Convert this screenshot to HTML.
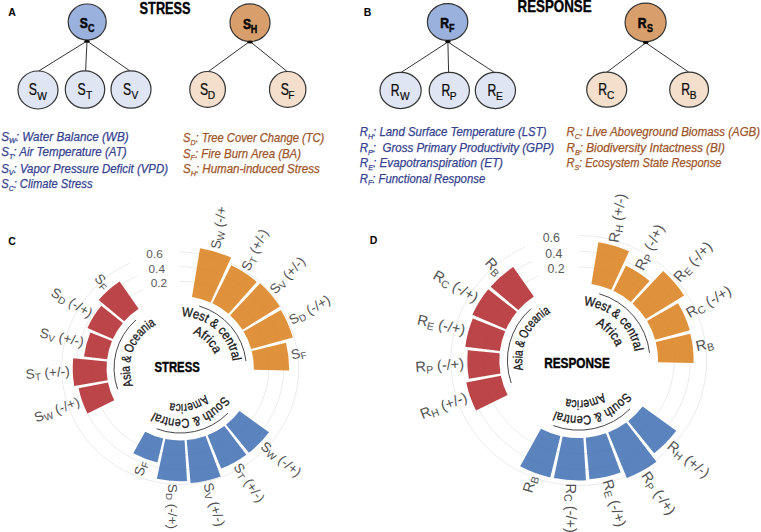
<!DOCTYPE html>
<html><head><meta charset="utf-8"><style>html,body{margin:0;padding:0;background:#fff;width:761px;height:532px;overflow:hidden}svg{display:block}</style></head><body>
<svg width="761" height="532" viewBox="0 0 761 532" font-family='"Liberation Sans", sans-serif'>
<rect width="761" height="532" fill="#fff"/>
<g font-weight="bold" fill="#000" font-size="10.5">
<text x="8.3" y="16.4">A</text><text x="363.8" y="16.4">B</text>
<text x="8.3" y="244.7">C</text><text x="369.8" y="244.4">D</text>
</g>
<text x="139.6" y="13.6" font-size="16.4" font-weight="bold" stroke="#000" stroke-width="0.35" textLength="51" lengthAdjust="spacingAndGlyphs">STRESS</text>
<text x="517.6" y="12.2" font-size="16.4" font-weight="bold" stroke="#000" stroke-width="0.35" textLength="74" lengthAdjust="spacingAndGlyphs">RESPONSE</text>
<line x1="38.7" y1="71" x2="87" y2="41" stroke="#333" stroke-width="1.0"/>
<line x1="85.6" y1="71" x2="87" y2="41" stroke="#333" stroke-width="1.0"/>
<line x1="130" y1="71" x2="87" y2="41" stroke="#333" stroke-width="1.0"/>
<ellipse cx="87.2" cy="22" rx="19" ry="18" fill="#9bb1dd" stroke="#333" stroke-width="1.2"/>
<text transform="translate(79.79,28.00) scale(0.78,1)" font-size="15.5" font-weight="bold" fill="#0a0a0a" stroke="#0a0a0a" stroke-width="0.7">S</text>
<text transform="translate(88.01,32.00) scale(0.9,1)" font-size="10.0" font-weight="bold" fill="#0a0a0a" stroke="#0a0a0a" stroke-width="0.45">C</text>
<ellipse cx="38" cy="90" rx="20" ry="19" fill="#dfe5f3" stroke="#333" stroke-width="1.2"/>
<text transform="translate(28.68,95.40) scale(0.77,1)" font-size="15.8" font-weight="normal" fill="#0a0a0a" stroke="#0a0a0a" stroke-width="0.25">S</text>
<text transform="translate(37.19,99.50) scale(1.0,1)" font-size="10.2" font-weight="normal" fill="#0a0a0a" stroke="#0a0a0a" stroke-width="0.2">W</text>
<ellipse cx="85" cy="89.5" rx="19.7" ry="18.7" fill="#dfe5f3" stroke="#333" stroke-width="1.2"/>
<text transform="translate(77.56,94.90) scale(0.77,1)" font-size="15.8" font-weight="normal" fill="#0a0a0a" stroke="#0a0a0a" stroke-width="0.25">S</text>
<text transform="translate(85.89,99.00) scale(1.0,1)" font-size="10.2" font-weight="normal" fill="#0a0a0a" stroke="#0a0a0a" stroke-width="0.2">T</text>
<ellipse cx="131" cy="89.5" rx="20" ry="18.7" fill="#dfe5f3" stroke="#333" stroke-width="1.2"/>
<text transform="translate(123.09,94.90) scale(0.77,1)" font-size="15.8" font-weight="normal" fill="#0a0a0a" stroke="#0a0a0a" stroke-width="0.25">S</text>
<text transform="translate(131.60,99.00) scale(1.0,1)" font-size="10.2" font-weight="normal" fill="#0a0a0a" stroke="#0a0a0a" stroke-width="0.2">V</text>
<ellipse cx="87" cy="41.3" rx="2.9" ry="1.5" fill="#0a0a0a"/>
<line x1="208.4" y1="71.5" x2="249.6" y2="41.5" stroke="#333" stroke-width="1.0"/>
<line x1="287.2" y1="71.5" x2="250" y2="41.5" stroke="#333" stroke-width="1.0"/>
<ellipse cx="250" cy="22.7" rx="20" ry="18.8" fill="#d89f6c" stroke="#333" stroke-width="1.2"/>
<text transform="translate(242.88,28.70) scale(0.78,1)" font-size="15.5" font-weight="bold" fill="#0a0a0a" stroke="#0a0a0a" stroke-width="0.7">S</text>
<text transform="translate(250.87,32.70) scale(0.9,1)" font-size="10.0" font-weight="bold" fill="#0a0a0a" stroke="#0a0a0a" stroke-width="0.45">H</text>
<ellipse cx="207.6" cy="89.4" rx="17.8" ry="17.9" fill="#f3dfcc" stroke="#333" stroke-width="1.2"/>
<text transform="translate(200.03,94.80) scale(0.77,1)" font-size="15.8" font-weight="normal" fill="#0a0a0a" stroke="#0a0a0a" stroke-width="0.25">S</text>
<text transform="translate(207.75,98.90) scale(1.0,1)" font-size="10.2" font-weight="normal" fill="#0a0a0a" stroke="#0a0a0a" stroke-width="0.2">D</text>
<ellipse cx="287.7" cy="89.4" rx="18.2" ry="17.9" fill="#f3dfcc" stroke="#333" stroke-width="1.2"/>
<text transform="translate(280.65,94.80) scale(0.77,1)" font-size="15.8" font-weight="normal" fill="#0a0a0a" stroke="#0a0a0a" stroke-width="0.25">S</text>
<text transform="translate(288.37,98.90) scale(1.0,1)" font-size="10.2" font-weight="normal" fill="#0a0a0a" stroke="#0a0a0a" stroke-width="0.2">F</text>
<ellipse cx="250" cy="42.0" rx="2.9" ry="1.5" fill="#0a0a0a"/>
<line x1="401.2" y1="72.4" x2="447.9" y2="42" stroke="#333" stroke-width="1.0"/>
<line x1="448.6" y1="72.4" x2="447.9" y2="42" stroke="#333" stroke-width="1.0"/>
<line x1="494.3" y1="72.4" x2="447.9" y2="42" stroke="#333" stroke-width="1.0"/>
<ellipse cx="447.6" cy="22" rx="20.2" ry="18.3" fill="#9bb1dd" stroke="#333" stroke-width="1.2"/>
<text transform="translate(440.17,28.00) scale(0.78,1)" font-size="15.5" font-weight="bold" fill="#0a0a0a" stroke="#0a0a0a" stroke-width="0.7">R</text>
<text transform="translate(449.05,32.00) scale(0.9,1)" font-size="10.0" font-weight="bold" fill="#0a0a0a" stroke="#0a0a0a" stroke-width="0.45">F</text>
<ellipse cx="400.6" cy="90.5" rx="20.6" ry="18.1" fill="#dfe5f3" stroke="#333" stroke-width="1.2"/>
<text transform="translate(390.72,95.90) scale(0.77,1)" font-size="15.8" font-weight="normal" fill="#0a0a0a" stroke="#0a0a0a" stroke-width="0.25">R</text>
<text transform="translate(399.90,100.00) scale(1.0,1)" font-size="10.2" font-weight="normal" fill="#0a0a0a" stroke="#0a0a0a" stroke-width="0.2">W</text>
<ellipse cx="449.3" cy="90.5" rx="20.1" ry="18.1" fill="#dfe5f3" stroke="#333" stroke-width="1.2"/>
<text transform="translate(441.48,95.90) scale(0.77,1)" font-size="15.8" font-weight="normal" fill="#0a0a0a" stroke="#0a0a0a" stroke-width="0.25">R</text>
<text transform="translate(449.86,100.00) scale(1.0,1)" font-size="10.2" font-weight="normal" fill="#0a0a0a" stroke="#0a0a0a" stroke-width="0.2">P</text>
<ellipse cx="495.4" cy="90.5" rx="20.1" ry="18.1" fill="#dfe5f3" stroke="#333" stroke-width="1.2"/>
<text transform="translate(487.52,95.90) scale(0.77,1)" font-size="15.8" font-weight="normal" fill="#0a0a0a" stroke="#0a0a0a" stroke-width="0.25">R</text>
<text transform="translate(495.91,100.00) scale(1.0,1)" font-size="10.2" font-weight="normal" fill="#0a0a0a" stroke="#0a0a0a" stroke-width="0.2">E</text>
<ellipse cx="447.9" cy="41.6" rx="2.9" ry="1.5" fill="#0a0a0a"/>
<line x1="607" y1="72.1" x2="645.8" y2="42.8" stroke="#333" stroke-width="1.0"/>
<line x1="688.7" y1="72.1" x2="645.8" y2="42.8" stroke="#333" stroke-width="1.0"/>
<ellipse cx="645.6" cy="22.4" rx="20.5" ry="19.3" fill="#d89f6c" stroke="#333" stroke-width="1.2"/>
<text transform="translate(637.76,28.40) scale(0.78,1)" font-size="15.5" font-weight="bold" fill="#0a0a0a" stroke="#0a0a0a" stroke-width="0.7">R</text>
<text transform="translate(646.98,32.40) scale(0.9,1)" font-size="10.0" font-weight="bold" fill="#0a0a0a" stroke="#0a0a0a" stroke-width="0.45">S</text>
<ellipse cx="606.7" cy="89.6" rx="20" ry="17.5" fill="#f3dfcc" stroke="#333" stroke-width="1.2"/>
<text transform="translate(598.36,95.00) scale(0.77,1)" font-size="15.8" font-weight="normal" fill="#0a0a0a" stroke="#0a0a0a" stroke-width="0.25">R</text>
<text transform="translate(607.06,99.10) scale(1.0,1)" font-size="10.2" font-weight="normal" fill="#0a0a0a" stroke="#0a0a0a" stroke-width="0.2">C</text>
<ellipse cx="689.1" cy="89.6" rx="19.4" ry="17.5" fill="#f3dfcc" stroke="#333" stroke-width="1.2"/>
<text transform="translate(681.28,95.00) scale(0.77,1)" font-size="15.8" font-weight="normal" fill="#0a0a0a" stroke="#0a0a0a" stroke-width="0.25">R</text>
<text transform="translate(689.66,99.10) scale(1.0,1)" font-size="10.2" font-weight="normal" fill="#0a0a0a" stroke="#0a0a0a" stroke-width="0.2">B</text>
<ellipse cx="645.8" cy="42.5" rx="2.9" ry="1.5" fill="#0a0a0a"/>
<text x="1.2" y="140.5" font-size="12.6" font-style="italic" fill="#35428f" stroke="#35428f" stroke-width="0.25" textLength="127.4" lengthAdjust="spacingAndGlyphs">S<tspan font-size="7.8" dy="2.8">W</tspan><tspan dy="-2.8">: Water Balance (WB)</tspan></text>
<text x="1.2" y="156.2" font-size="12.6" font-style="italic" fill="#35428f" stroke="#35428f" stroke-width="0.25" textLength="125.4" lengthAdjust="spacingAndGlyphs">S<tspan font-size="7.8" dy="2.8">T</tspan><tspan dy="-2.8">: Air Temperature (AT)</tspan></text>
<text x="1.2" y="172.5" font-size="12.6" font-style="italic" fill="#35428f" stroke="#35428f" stroke-width="0.25" textLength="166.8" lengthAdjust="spacingAndGlyphs">S<tspan font-size="7.8" dy="2.8">V</tspan><tspan dy="-2.8">: Vapor Pressure Deficit (VPD)</tspan></text>
<text x="1.2" y="188" font-size="12.6" font-style="italic" fill="#35428f" stroke="#35428f" stroke-width="0.25" textLength="91.3" lengthAdjust="spacingAndGlyphs">S<tspan font-size="7.8" dy="2.8">C</tspan><tspan dy="-2.8">: Climate Stress</tspan></text>
<text x="183" y="142" font-size="12.6" font-style="italic" fill="#9e5428" stroke="#9e5428" stroke-width="0.25" textLength="141.3" lengthAdjust="spacingAndGlyphs">S<tspan font-size="7.8" dy="2.8">D</tspan><tspan dy="-2.8">: Tree Cover Change (TC)</tspan></text>
<text x="183" y="157.5" font-size="12.6" font-style="italic" fill="#9e5428" stroke="#9e5428" stroke-width="0.25" textLength="118.0" lengthAdjust="spacingAndGlyphs">S<tspan font-size="7.8" dy="2.8">F</tspan><tspan dy="-2.8">: Fire Burn Area (BA)</tspan></text>
<text x="183" y="173.2" font-size="12.6" font-style="italic" fill="#9e5428" stroke="#9e5428" stroke-width="0.25" textLength="136.8" lengthAdjust="spacingAndGlyphs">S<tspan font-size="7.8" dy="2.8">H</tspan><tspan dy="-2.8">: Human-induced Stress</tspan></text>
<text x="359.7" y="135.7" font-size="12.6" font-style="italic" fill="#35428f" stroke="#35428f" stroke-width="0.25" textLength="186.8" lengthAdjust="spacingAndGlyphs">R<tspan font-size="7.8" dy="2.8">H</tspan><tspan dy="-2.8">: Land Surface Temperature (LST)</tspan></text>
<text x="359.7" y="151.7" font-size="12.6" font-style="italic" fill="#35428f" stroke="#35428f" stroke-width="0.25" textLength="194.5" lengthAdjust="spacingAndGlyphs">R<tspan font-size="7.8" dy="2.8">P</tspan><tspan dy="-2.8">:&#160; Gross Primary Productivity (GPP)</tspan></text>
<text x="359.7" y="167.4" font-size="12.6" font-style="italic" fill="#35428f" stroke="#35428f" stroke-width="0.25" textLength="143.3" lengthAdjust="spacingAndGlyphs">R<tspan font-size="7.8" dy="2.8">E</tspan><tspan dy="-2.8">: Evapotranspiration (ET)</tspan></text>
<text x="359.7" y="182.6" font-size="12.6" font-style="italic" fill="#35428f" stroke="#35428f" stroke-width="0.25" textLength="125.5" lengthAdjust="spacingAndGlyphs">R<tspan font-size="7.8" dy="2.8">F</tspan><tspan dy="-2.8">: Functional Response</tspan></text>
<text x="566.4" y="136.1" font-size="12.6" font-style="italic" fill="#9e5428" stroke="#9e5428" stroke-width="0.25" textLength="193.6" lengthAdjust="spacingAndGlyphs">R<tspan font-size="7.8" dy="2.8">C</tspan><tspan dy="-2.8">: Live Aboveground Biomass (AGB)</tspan></text>
<text x="566.4" y="152.1" font-size="12.6" font-style="italic" fill="#9e5428" stroke="#9e5428" stroke-width="0.25" textLength="158.6" lengthAdjust="spacingAndGlyphs">R<tspan font-size="7.8" dy="2.8">B</tspan><tspan dy="-2.8">: Biodiversity Intactness (BI)</tspan></text>
<text x="566.4" y="167.2" font-size="12.6" font-style="italic" fill="#9e5428" stroke="#9e5428" stroke-width="0.25" textLength="155.1" lengthAdjust="spacingAndGlyphs">R<tspan font-size="7.8" dy="2.8">S</tspan><tspan dy="-2.8">: Ecosystem State Response</tspan></text>
<defs><clipPath id="clipC"><rect x="0" y="207" width="761" height="325"/></clipPath></defs>
<g clip-path="url(#clipC)">
<path d="M180.20,281.35 A88.59,86.85 0 1 1 143.04,289.36" fill="none" stroke="#ececec" stroke-width="0.9" />
<path d="M180.20,266.70 A103.53,101.50 0 1 1 136.77,276.06" fill="none" stroke="#ececec" stroke-width="0.9" />
<path d="M180.20,252.05 A118.47,116.15 0 1 1 130.51,262.76" fill="none" stroke="#ececec" stroke-width="0.9" />
<path d="M200.02,248.34 A123.85,121.42 0 0 1 231.11,257.51 L210.47,302.38 A73.64,72.20 0 0 0 191.98,296.93 Z" fill="#df913b"/>
<path d="M231.25,265.34 A116.68,114.39 0 0 1 256.77,281.88 L228.53,313.72 A73.64,72.20 0 0 0 212.42,303.28 Z" fill="#df913b"/>
<path d="M260.07,283.31 A117.80,115.49 0 0 1 279.83,306.58 L242.48,329.68 A73.64,72.20 0 0 0 230.13,315.13 Z" fill="#df913b"/>
<path d="M280.85,309.90 A116.90,114.61 0 0 1 292.85,337.56 L251.16,348.90 A73.64,72.20 0 0 0 243.61,331.48 Z" fill="#df913b"/>
<path d="M285.95,342.67 A108.91,106.77 0 0 1 289.08,370.50 L253.83,369.75 A73.64,72.20 0 0 0 251.71,350.94 Z" fill="#df913b"/>
<path d="M269.02,432.37 A110.33,108.17 0 0 1 248.95,452.80 L226.09,424.67 A73.64,72.20 0 0 0 239.49,411.03 Z" fill="#5b83bd"/>
<path d="M246.36,454.67 A110.25,108.09 0 0 1 221.16,468.56 L207.56,435.23 A73.64,72.20 0 0 0 224.39,425.96 Z" fill="#5b83bd"/>
<path d="M220.67,476.43 A117.58,115.27 0 0 1 190.58,483.02 L186.70,440.12 A73.64,72.20 0 0 0 205.55,435.99 Z" fill="#5b83bd"/>
<path d="M187.02,480.93 A115.19,112.93 0 0 1 156.89,478.79 L165.30,438.91 A73.64,72.20 0 0 0 184.56,440.27 Z" fill="#5b83bd"/>
<path d="M157.40,462.40 A98.75,96.81 0 0 1 133.21,453.35 L145.16,431.70 A73.64,72.20 0 0 0 163.20,438.45 Z" fill="#5b83bd"/>
<path d="M87.49,413.38 A103.53,101.50 0 0 1 78.70,388.20 L108.00,382.43 A73.64,72.20 0 0 0 114.26,400.34 Z" fill="#bb4548"/>
<path d="M74.24,385.94 A107.49,105.38 0 0 1 73.18,358.33 L106.88,361.44 A73.64,72.20 0 0 0 107.61,380.36 Z" fill="#bb4548"/>
<path d="M83.98,356.54 A96.96,95.05 0 0 1 90.38,332.42 L111.97,341.02 A73.64,72.20 0 0 0 107.11,359.34 Z" fill="#bb4548"/>
<path d="M87.45,328.12 A101.36,99.38 0 0 1 101.26,305.86 L122.85,322.91 A73.64,72.20 0 0 0 112.81,339.08 Z" fill="#bb4548"/>
<path d="M98.72,299.91 A107.19,105.09 0 0 1 119.63,281.50 L138.59,308.63 A73.64,72.20 0 0 0 124.22,321.28 Z" fill="#bb4548"/>
<path d="M180.20,281.35 A88.59,86.85 0 1 1 143.04,289.36" fill="none" stroke="#000" stroke-width="0.8" stroke-opacity="0.025"/>
<path d="M180.20,266.70 A103.53,101.50 0 1 1 136.77,276.06" fill="none" stroke="#000" stroke-width="0.8" stroke-opacity="0.025"/>
<path d="M180.20,252.05 A118.47,116.15 0 1 1 130.51,262.76" fill="none" stroke="#000" stroke-width="0.8" stroke-opacity="0.025"/>
<text transform="translate(216.75,249.05) rotate(-81.43)" text-anchor="start" dy="3.40" font-size="13.6" fill="#525252">S<tspan font-size="9.79" dy="2.18">W</tspan><tspan dy="-2.18"> (-/+)</tspan></text>
<text transform="translate(246.25,270.29) rotate(-64.29)" text-anchor="start" dy="3.40" font-size="13.6" fill="#525252">S<tspan font-size="9.79" dy="2.18">T</tspan><tspan dy="-2.18"> (+/-)</tspan></text>
<text transform="translate(273.08,292.38) rotate(-47.14)" text-anchor="start" dy="3.40" font-size="13.6" fill="#525252">S<tspan font-size="9.79" dy="2.18">V</tspan><tspan dy="-2.18"> (+/-)</tspan></text>
<text transform="translate(290.59,322.17) rotate(-30.00)" text-anchor="start" dy="3.40" font-size="13.6" fill="#525252">S<tspan font-size="9.79" dy="2.18">D</tspan><tspan dy="-2.18"> (-/+)</tspan></text>
<text transform="translate(291.49,356.15) rotate(-12.86)" text-anchor="start" dy="3.40" font-size="13.6" fill="#525252">S<tspan font-size="9.79" dy="2.18">F</tspan><tspan dy="-2.18"></tspan></text>
<text transform="translate(261.88,445.31) rotate(38.57)" text-anchor="start" dy="3.40" font-size="13.6" fill="#525252">S<tspan font-size="9.79" dy="2.18">W</tspan><tspan dy="-2.18"> (-/+)</tspan></text>
<text transform="translate(235.72,465.04) rotate(55.71)" text-anchor="start" dy="3.40" font-size="13.6" fill="#525252">S<tspan font-size="9.79" dy="2.18">T</tspan><tspan dy="-2.18"> (+/-)</tspan></text>
<text transform="translate(206.52,483.62) rotate(72.86)" text-anchor="start" dy="3.40" font-size="13.6" fill="#525252">S<tspan font-size="9.79" dy="2.18">V</tspan><tspan dy="-2.18"> (+/-)</tspan></text>
<text transform="translate(171.66,483.82) rotate(90.00)" text-anchor="start" dy="3.40" font-size="13.6" fill="#525252">S<tspan font-size="9.79" dy="2.18">D</tspan><tspan dy="-2.18"> (-/+)</tspan></text>
<text transform="translate(143.91,461.46) rotate(287.14)" text-anchor="end" dy="3.40" font-size="13.6" fill="#525252">S<tspan font-size="9.79" dy="2.18">F</tspan><tspan dy="-2.18"></tspan></text>
<text transform="translate(79.36,402.05) rotate(338.57)" text-anchor="end" dy="3.40" font-size="13.6" fill="#525252">S<tspan font-size="9.79" dy="2.18">W</tspan><tspan dy="-2.18"> (-/+)</tspan></text>
<text transform="translate(69.73,372.28) rotate(355.71)" text-anchor="end" dy="3.40" font-size="13.6" fill="#525252">S<tspan font-size="9.79" dy="2.18">T</tspan><tspan dy="-2.18"> (+/-)</tspan></text>
<text transform="translate(83.41,343.52) rotate(372.86)" text-anchor="end" dy="3.40" font-size="13.6" fill="#525252">S<tspan font-size="9.79" dy="2.18">V</tspan><tspan dy="-2.18"> (+/-)</tspan></text>
<text transform="translate(90.99,314.98) rotate(390.00)" text-anchor="end" dy="3.40" font-size="13.6" fill="#525252">S<tspan font-size="9.79" dy="2.18">D</tspan><tspan dy="-2.18"> (-/+)</tspan></text>
<text transform="translate(106.51,287.80) rotate(407.14)" text-anchor="end" dy="3.40" font-size="13.6" fill="#525252">S<tspan font-size="9.79" dy="2.18">F</tspan><tspan dy="-2.18"></tspan></text>
<text x="167.17" y="282.30" dy="4.96" text-anchor="end" font-size="11.8" fill="#595959">0.2</text>
<text x="164.97" y="267.80" dy="4.96" text-anchor="end" font-size="11.8" fill="#595959">0.4</text>
<text x="162.77" y="253.31" dy="4.96" text-anchor="end" font-size="11.8" fill="#595959">0.6</text>
<path d="M199.26,306.07 A66.17,64.88 0 0 1 245.97,361.08" fill="none" stroke="#333" stroke-width="0.9" />
<path d="M227.86,413.20 A66.17,64.88 0 0 1 156.62,428.81" fill="none" stroke="#333" stroke-width="0.9" />
<path d="M117.60,389.21 A66.17,64.88 0 0 1 135.97,319.94" fill="none" stroke="#333" stroke-width="0.9" />
<path id="Cg0_0" d="M145.05,407.15 A53.04,52.00 0 0 1 215.35,329.25 A53.04,52.00 0 0 1 145.05,407.15" fill="none"/>
<text font-size="13" fill="#141414" stroke="#141414" stroke-width="0.3"><textPath href="#Cg0_0" startOffset="50%" text-anchor="middle" textLength="74" lengthAdjust="spacingAndGlyphs">West &amp; central</textPath></text>
<path id="Cg0_1" d="M154.57,394.68 A37.23,36.50 0 0 1 205.83,341.72 A37.23,36.50 0 0 1 154.57,394.68" fill="none"/>
<text font-size="13" fill="#141414" stroke="#141414" stroke-width="0.3"><textPath href="#Cg0_1" startOffset="50%" text-anchor="middle" textLength="31" lengthAdjust="spacingAndGlyphs">Africa</textPath></text>
<path id="Cg1_0" d="M168.23,318.57 A52.02,51.00 0 0 1 192.17,417.83 A52.02,51.00 0 0 1 168.23,318.57" fill="none"/>
<text font-size="13" fill="#141414" stroke="#141414" stroke-width="0.3"><textPath href="#Cg1_0" startOffset="50%" text-anchor="middle" textLength="78" lengthAdjust="spacingAndGlyphs">South &amp; Central</textPath></text>
<path id="Cg1_1" d="M171.75,333.17 A36.72,36.00 0 0 1 188.65,403.23 A36.72,36.00 0 0 1 171.75,333.17" fill="none"/>
<text font-size="13" fill="#141414" stroke="#141414" stroke-width="0.3"><textPath href="#Cg1_1" startOffset="50%" text-anchor="middle" textLength="37" lengthAdjust="spacingAndGlyphs">America</textPath></text>
<path id="Cg2_0" d="M227.49,385.54 A50.49,49.50 0 0 1 132.91,350.86 A50.49,49.50 0 0 1 227.49,385.54" fill="none"/>
<text font-size="13" fill="#141414" stroke="#141414" stroke-width="0.3"><textPath href="#Cg2_0" startOffset="50%" text-anchor="middle" textLength="71" lengthAdjust="spacingAndGlyphs">Asia &amp; Oceania</textPath></text>
<text x="154.5" y="371.5" font-size="14" font-weight="bold" stroke="#000" stroke-width="0.4" textLength="45.2" lengthAdjust="spacingAndGlyphs">STRESS</text>
</g>
<path d="M578.70,267.10 A95.55,93.40 0 1 1 538.62,275.71" fill="none" stroke="#ececec" stroke-width="0.9" />
<path d="M578.70,251.30 A111.71,109.20 0 1 1 531.84,261.37" fill="none" stroke="#ececec" stroke-width="0.9" />
<path d="M578.70,235.50 A127.87,125.00 0 1 1 525.06,247.03" fill="none" stroke="#ececec" stroke-width="0.9" />
<path d="M598.31,242.26 A122.54,119.79 0 0 1 629.07,251.30 L611.33,289.76 A79.38,77.60 0 0 0 591.40,283.90 Z" fill="#df913b"/>
<path d="M625.92,265.65 A107.91,105.49 0 0 1 649.52,280.90 L630.79,301.95 A79.38,77.60 0 0 0 613.43,290.72 Z" fill="#df913b"/>
<path d="M663.21,270.94 A124.64,121.84 0 0 1 684.12,295.49 L645.84,319.09 A79.38,77.60 0 0 0 632.52,303.46 Z" fill="#df913b"/>
<path d="M678.01,303.15 A115.35,112.75 0 0 1 689.85,330.35 L655.20,339.75 A79.38,77.60 0 0 0 647.05,321.03 Z" fill="#df913b"/>
<path d="M690.31,333.64 A114.94,112.36 0 0 1 693.62,362.92 L658.07,362.17 A79.38,77.60 0 0 0 655.78,341.95 Z" fill="#df913b"/>
<path d="M676.24,430.76 A121.17,118.44 0 0 1 654.21,453.13 L628.17,421.19 A79.38,77.60 0 0 0 642.61,406.54 Z" fill="#5b83bd"/>
<path d="M656.40,461.76 A129.49,126.58 0 0 1 626.80,478.02 L608.19,432.55 A79.38,77.60 0 0 0 626.33,422.58 Z" fill="#5b83bd"/>
<path d="M620.68,472.45 A121.98,119.23 0 0 1 589.47,479.27 L585.71,437.80 A79.38,77.60 0 0 0 606.02,433.36 Z" fill="#5b83bd"/>
<path d="M585.97,480.31 A122.78,120.02 0 0 1 553.86,478.04 L562.64,436.50 A79.38,77.60 0 0 0 583.40,437.96 Z" fill="#5b83bd"/>
<path d="M550.30,477.51 A123.03,120.26 0 0 1 520.16,466.27 L540.93,428.75 A79.38,77.60 0 0 0 560.37,436.00 Z" fill="#5b83bd"/>
<path d="M475.99,410.41 A114.70,112.12 0 0 1 466.25,382.60 L500.87,375.79 A79.38,77.60 0 0 0 507.61,395.04 Z" fill="#bb4548"/>
<path d="M468.98,378.82 A111.31,108.80 0 0 1 467.88,350.31 L499.66,353.23 A79.38,77.60 0 0 0 500.45,373.57 Z" fill="#bb4548"/>
<path d="M465.27,346.79 A114.30,111.73 0 0 1 472.81,318.44 L505.15,331.29 A79.38,77.60 0 0 0 499.91,350.98 Z" fill="#bb4548"/>
<path d="M472.41,314.70 A116.16,113.54 0 0 1 488.24,289.27 L516.88,311.82 A79.38,77.60 0 0 0 506.06,329.20 Z" fill="#bb4548"/>
<path d="M490.59,286.87 A115.91,113.31 0 0 1 513.20,267.02 L533.84,296.48 A79.38,77.60 0 0 0 518.36,310.08 Z" fill="#bb4548"/>
<path d="M578.70,267.10 A95.55,93.40 0 1 1 538.62,275.71" fill="none" stroke="#000" stroke-width="0.8" stroke-opacity="0.025"/>
<path d="M578.70,251.30 A111.71,109.20 0 1 1 531.84,261.37" fill="none" stroke="#000" stroke-width="0.8" stroke-opacity="0.025"/>
<path d="M578.70,235.50 A127.87,125.00 0 1 1 525.06,247.03" fill="none" stroke="#000" stroke-width="0.8" stroke-opacity="0.025"/>
<text transform="translate(614.97,242.63) rotate(-81.43)" text-anchor="start" dy="3.65" font-size="14.6" fill="#525252">R<tspan font-size="10.51" dy="2.34">H</tspan><tspan dy="-2.34"> (+/-)</tspan></text>
<text transform="translate(640.09,269.76) rotate(-64.29)" text-anchor="start" dy="3.65" font-size="14.6" fill="#525252">R<tspan font-size="10.51" dy="2.34">P</tspan><tspan dy="-2.34"> (-/+)</tspan></text>
<text transform="translate(677.08,280.43) rotate(-47.14)" text-anchor="start" dy="3.65" font-size="14.6" fill="#525252">R<tspan font-size="10.51" dy="2.34">E</tspan><tspan dy="-2.34"> (-/+)</tspan></text>
<text transform="translate(687.95,315.08) rotate(-30.00)" text-anchor="start" dy="3.65" font-size="14.6" fill="#525252">R<tspan font-size="10.51" dy="2.34">C</tspan><tspan dy="-2.34"> (-/+)</tspan></text>
<text transform="translate(696.31,347.81) rotate(-12.86)" text-anchor="start" dy="3.65" font-size="14.6" fill="#525252">R<tspan font-size="10.51" dy="2.34">B</tspan><tspan dy="-2.34"></tspan></text>
<text transform="translate(668.41,444.95) rotate(38.57)" text-anchor="start" dy="3.65" font-size="14.6" fill="#525252">R<tspan font-size="10.51" dy="2.34">H</tspan><tspan dy="-2.34"> (+/-)</tspan></text>
<text transform="translate(643.80,473.72) rotate(55.71)" text-anchor="start" dy="3.65" font-size="14.6" fill="#525252">R<tspan font-size="10.51" dy="2.34">P</tspan><tspan dy="-2.34"> (-/+)</tspan></text>
<text transform="translate(606.04,480.08) rotate(72.86)" text-anchor="start" dy="3.65" font-size="14.6" fill="#525252">R<tspan font-size="10.51" dy="2.34">E</tspan><tspan dy="-2.34"> (-/+)</tspan></text>
<text transform="translate(569.59,483.50) rotate(90.00)" text-anchor="start" dy="3.65" font-size="14.6" fill="#525252">R<tspan font-size="10.51" dy="2.34">C</tspan><tspan dy="-2.34"> (-/+)</tspan></text>
<text transform="translate(533.65,475.95) rotate(287.14)" text-anchor="end" dy="3.65" font-size="14.6" fill="#525252">R<tspan font-size="10.51" dy="2.34">B</tspan><tspan dy="-2.34"></tspan></text>
<text transform="translate(466.99,397.89) rotate(338.57)" text-anchor="end" dy="3.65" font-size="14.6" fill="#525252">R<tspan font-size="10.51" dy="2.34">H</tspan><tspan dy="-2.34"> (+/-)</tspan></text>
<text transform="translate(464.10,364.73) rotate(355.71)" text-anchor="end" dy="3.65" font-size="14.6" fill="#525252">R<tspan font-size="10.51" dy="2.34">P</tspan><tspan dy="-2.34"> (-/+)</tspan></text>
<text transform="translate(464.82,331.54) rotate(372.86)" text-anchor="end" dy="3.65" font-size="14.6" fill="#525252">R<tspan font-size="10.51" dy="2.34">E</tspan><tspan dy="-2.34"> (-/+)</tspan></text>
<text transform="translate(476.59,299.76) rotate(390.00)" text-anchor="end" dy="3.65" font-size="14.6" fill="#525252">R<tspan font-size="10.51" dy="2.34">C</tspan><tspan dy="-2.34"> (-/+)</tspan></text>
<text transform="translate(498.97,273.76) rotate(407.14)" text-anchor="end" dy="3.65" font-size="14.6" fill="#525252">R<tspan font-size="10.51" dy="2.34">B</tspan><tspan dy="-2.34"></tspan></text>
<text x="564.64" y="268.12" dy="5.17" text-anchor="end" font-size="12.3" fill="#595959">0.2</text>
<text x="562.27" y="252.49" dy="5.17" text-anchor="end" font-size="12.3" fill="#595959">0.4</text>
<text x="559.89" y="236.86" dy="5.17" text-anchor="end" font-size="12.3" fill="#595959">0.6</text>
<path d="M599.24,293.75 A71.30,69.70 0 0 1 649.57,352.85" fill="none" stroke="#333" stroke-width="0.9" />
<path d="M630.06,408.85 A71.30,69.70 0 0 1 553.29,425.62" fill="none" stroke="#333" stroke-width="0.9" />
<path d="M511.24,383.08 A71.30,69.70 0 0 1 531.04,308.65" fill="none" stroke="#333" stroke-width="0.9" />
<path id="Dg0_0" d="M540.34,401.42 A56.78,55.50 0 0 1 617.06,319.58 A56.78,55.50 0 0 1 540.34,401.42" fill="none"/>
<text font-size="13" fill="#141414" stroke="#141414" stroke-width="0.3"><textPath href="#Dg0_0" startOffset="50%" text-anchor="middle" textLength="74" lengthAdjust="spacingAndGlyphs">West &amp; central</textPath></text>
<path id="Dg0_1" d="M549.52,387.10 A39.90,39.00 0 0 1 607.88,333.90 A39.90,39.00 0 0 1 549.52,387.10" fill="none"/>
<text font-size="13" fill="#141414" stroke="#141414" stroke-width="0.3"><textPath href="#Dg0_1" startOffset="50%" text-anchor="middle" textLength="31" lengthAdjust="spacingAndGlyphs">Africa</textPath></text>
<path id="Dg1_0" d="M563.62,306.99 A56.78,55.50 0 0 1 593.78,414.01 A56.78,55.50 0 0 1 563.62,306.99" fill="none"/>
<text font-size="13" fill="#141414" stroke="#141414" stroke-width="0.3"><textPath href="#Dg1_0" startOffset="50%" text-anchor="middle" textLength="78" lengthAdjust="spacingAndGlyphs">South &amp; Central</textPath></text>
<path id="Dg1_1" d="M572.30,320.99 A40.92,40.00 0 0 1 585.10,400.01 A40.92,40.00 0 0 1 572.30,320.99" fill="none"/>
<text font-size="13" fill="#141414" stroke="#141414" stroke-width="0.3"><textPath href="#Dg1_1" startOffset="50%" text-anchor="middle" textLength="38" lengthAdjust="spacingAndGlyphs">America</textPath></text>
<path id="Dg2_0" d="M630.03,384.22 A56.78,55.50 0 0 1 527.37,336.78 A56.78,55.50 0 0 1 630.03,384.22" fill="none"/>
<text font-size="13" fill="#141414" stroke="#141414" stroke-width="0.3"><textPath href="#Dg2_0" startOffset="50%" text-anchor="middle" textLength="68" lengthAdjust="spacingAndGlyphs">Asia &amp; Oceania</textPath></text>
<text x="544.2" y="367.9" font-size="14" font-weight="bold" stroke="#000" stroke-width="0.4" textLength="65.6" lengthAdjust="spacingAndGlyphs">RESPONSE</text>
</svg>
</body></html>
